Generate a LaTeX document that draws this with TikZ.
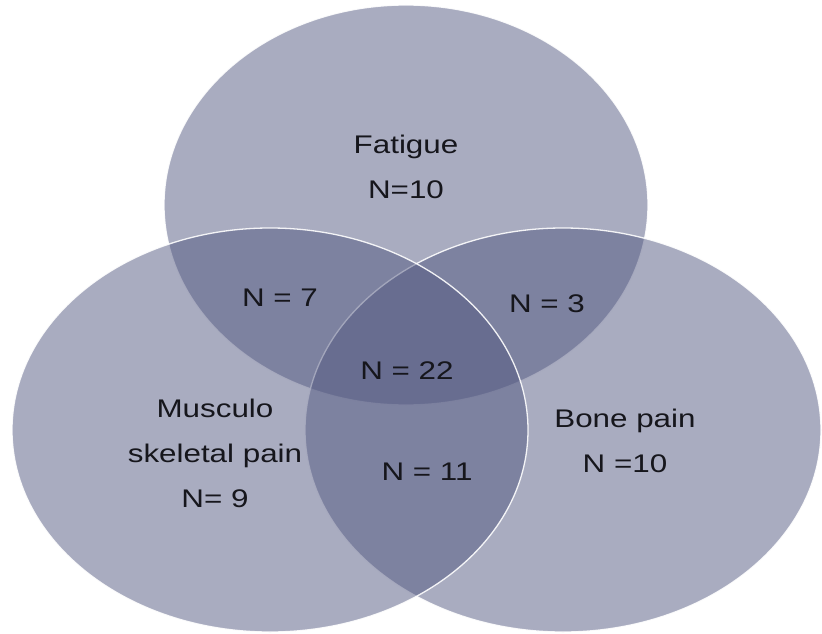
\documentclass[tikz,border=0pt]{standalone}
\usepackage{fontspec}
\setmainfont{Liberation Sans}[FakeStretch=1.23]
\definecolor{vennfill}{RGB}{83,89,129}
\definecolor{vennink}{RGB}{22,22,28}

\begin{document}
\begin{tikzpicture}[x=1pt, y=-1pt,
    venn/.style={fill=vennfill, fill opacity=0.5, draw=white, draw opacity=0.9, line width=1.3pt},
    tag/.style={inner sep=0pt, align=center, text=vennink, font=\fontsize{25.5}{45}\selectfont}]
    \useasboundingbox (0,0) rectangle (822,634);

    % the three sets
    \path[venn] (406,205) ellipse [x radius=242pt, y radius=200pt];
    \path[venn] (563,430) ellipse [x radius=258pt, y radius=202pt];
    \path[venn] (270,430) ellipse [x radius=258pt, y radius=202pt];

    % set names
    \node[tag] (fatigue) at (406,167) {Fatigue\\N=10};
    \node[tag] (musculo) at (215,453) {Musculo\\skeletal pain\\N= 9};
    \node[tag] (bone) at (625,441) {Bone pain\\N =10};

    % overlaps
    \node[tag] (fm) at (280,298) {N = 7};
    \node[tag] (fb) at (547,304) {N = 3};
    \node[tag] (all) at (407,371) {N = 22};
    \node[tag] (mb) at (427,472) {N = 11};
\end{tikzpicture}
\end{document}
